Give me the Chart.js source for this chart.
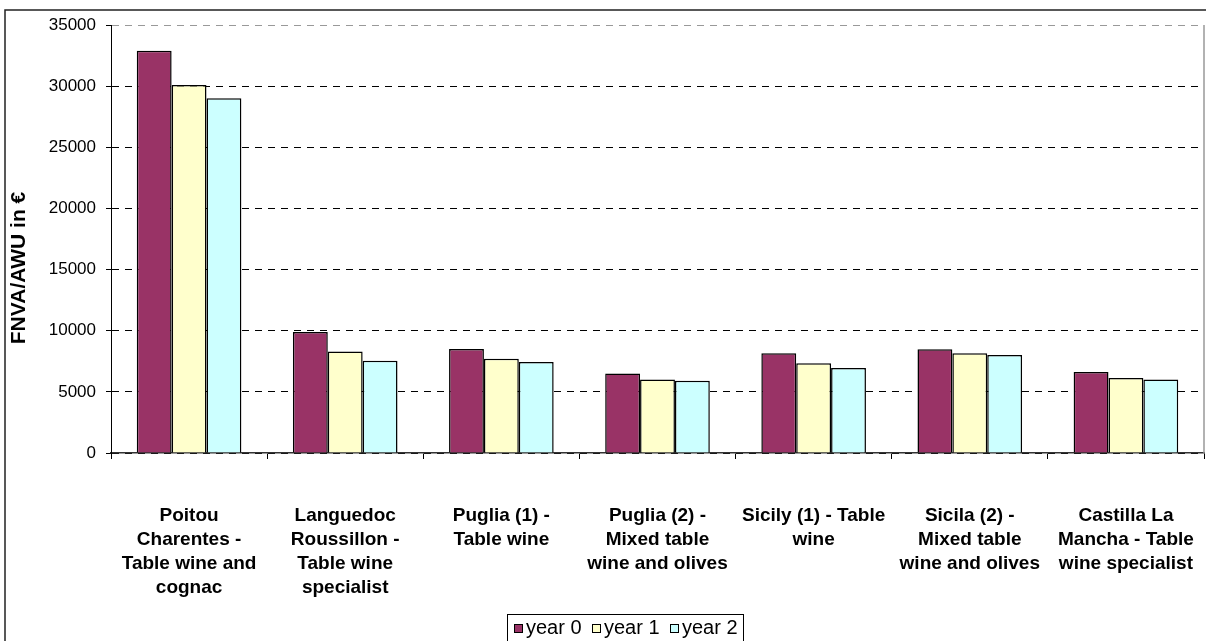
<!DOCTYPE html>
<html lang="en">
<head>
    <meta charset="UTF-8">
    <title>FNVA/AWU</title>
    <script src="https://cdn.jsdelivr.net/npm/chart.js"></script>
    <style>
        body { margin: 0; background: #fff; overflow: hidden; }
        #wrap { position: relative; width: 1206px; height: 641px; overflow: hidden; }
        #legend {
            position: absolute; left: 507px; top: 614px; width: 237px; height: 40px;
            border: 1px solid #000; box-sizing: border-box;
            font-family: "Liberation Sans", Arial, sans-serif; font-size: 20px; color: #000;
            padding-left: 6px; white-space: nowrap; line-height: 25px;
        }
        .item { display: inline-block; width: 78px; }
        .sq { display: inline-block; width: 7px; height: 7px; border: 1px solid #000; margin-right: 3px; vertical-align: 1px; }
    </style>
</head>
<body>
<div id="wrap">
    <canvas id="chart" width="1206" height="641"></canvas>
    <div id="legend"></div>
</div>

<script>

const regions = [
    ["Poitou", "Charentes -", "Table wine and", "cognac"],
    ["Languedoc", "Roussillon -", "Table wine", "specialist"],
    ["Puglia (1) -", "Table wine"],
    ["Puglia (2) -", "Mixed table", "wine and olives"],
    ["Sicily (1) - Table", "wine"],
    ["Sicila (2) -", "Mixed table", "wine and olives"],
    ["Castilla La", "Mancha - Table", "wine specialist"]
];

const seriesNames = ["year 0", "year 1", "year 2"];
const year0 = [32900, 9900, 8500, 6500, 8150, 8480, 6620];
const year1 = [30100, 8300, 7700, 6020, 7330, 8150, 6130];
const year2 = [29000, 7550, 7450, 5910, 6950, 8010, 6020];
const seriesColors = ["#993366", "#FFFFCC", "#CCFFFF"];

const yMax = 35000;
const yStep = 5000;
const yTitle = "FNVA/AWU in €";


// frame, right plot edge and rotated y title
const extras = {
    id: "extras",
    afterDraw(chart) {
        const c = chart.ctx;
        const a = chart.chartArea;
        c.save();
        c.strokeStyle = "#999";
        c.lineWidth = 1.5;
        c.beginPath();
        c.moveTo(a.right, a.top);
        c.lineTo(a.right, a.bottom);
        c.stroke();

        c.strokeStyle = "#222";
        c.lineWidth = 1.5;
        c.strokeRect(5, 10, 1220, 700);

        c.translate(19, 268);
        c.rotate(-Math.PI / 2);
        c.font = "bold 21px 'Liberation Sans', Arial, sans-serif";
        c.fillStyle = "#000";
        c.textAlign = "center";
        c.textBaseline = "middle";
        c.fillText(yTitle, 0, 0);
        c.restore();
    }
};

const allSeries = [year0, year1, year2];

new Chart(document.getElementById("chart"), {
    type: "bar",
    data: {
        labels: regions,
        datasets: allSeries.map((vals, i) => ({
            label: seriesNames[i],
            data: vals,
            backgroundColor: seriesColors[i],
            borderColor: "#000",
            borderWidth: 1.5,
            categoryPercentage: 0.67,
            barPercentage: 1.0
        }))
    },
    options: {
        responsive: false,
        animation: false,
        layout: { padding: { left: 0, right: 2, top: 25, bottom: 0 } },
        plugins: {
            legend: { display: false },
            tooltip: { enabled: false }
        },
        scales: {
            x: {
                grid: {
                    offset: true,
                    drawOnChartArea: false,
                    tickLength: 6,
                    tickColor: "#000"
                },
                border: { color: "#333", width: 1.5 },
                ticks: {
                    color: "#000",
                    font: { family: "'Liberation Sans', Arial, sans-serif", size: 19, weight: "bold", lineHeight: 1.26 },
                    padding: 45,
                    maxRotation: 0,
                    minRotation: 0,
                    autoSkip: false
                },
                afterFit: s => {
                    s.height = 188;
                    s.paddingLeft = 0;
                    s.paddingRight = 0;
                }
            },
            y: {
                min: 0,
                max: yMax,
                grid: {
                    color: ctx => ctx.tick && ctx.tick.value === yMax ? "#999" : "#000",
                    tickBorderDash: [],
                    tickColor: "#000",
                    tickLength: 5
                },
                border: { color: "#000", width: 1, dash: [7, 6] },
                ticks: {
                    stepSize: yStep,
                    color: "#000",
                    font: { family: "'Liberation Sans', Arial, sans-serif", size: 17 },
                    padding: 10,
                    callback: v => String(v)
                },
                afterFit: s => { s.width = 111; }
            }
        }
    },
    plugins: [extras]
});


// legend built from the series names and colours
const legend = document.getElementById("legend");
seriesNames.forEach((name, i) => {
    const item = document.createElement("span");
    item.className = "item";
    item.innerHTML = `<span class="sq" style="background:${seriesColors[i]}"></span>${name}`;
    legend.appendChild(item);
});

</script>
</body>
</html>
